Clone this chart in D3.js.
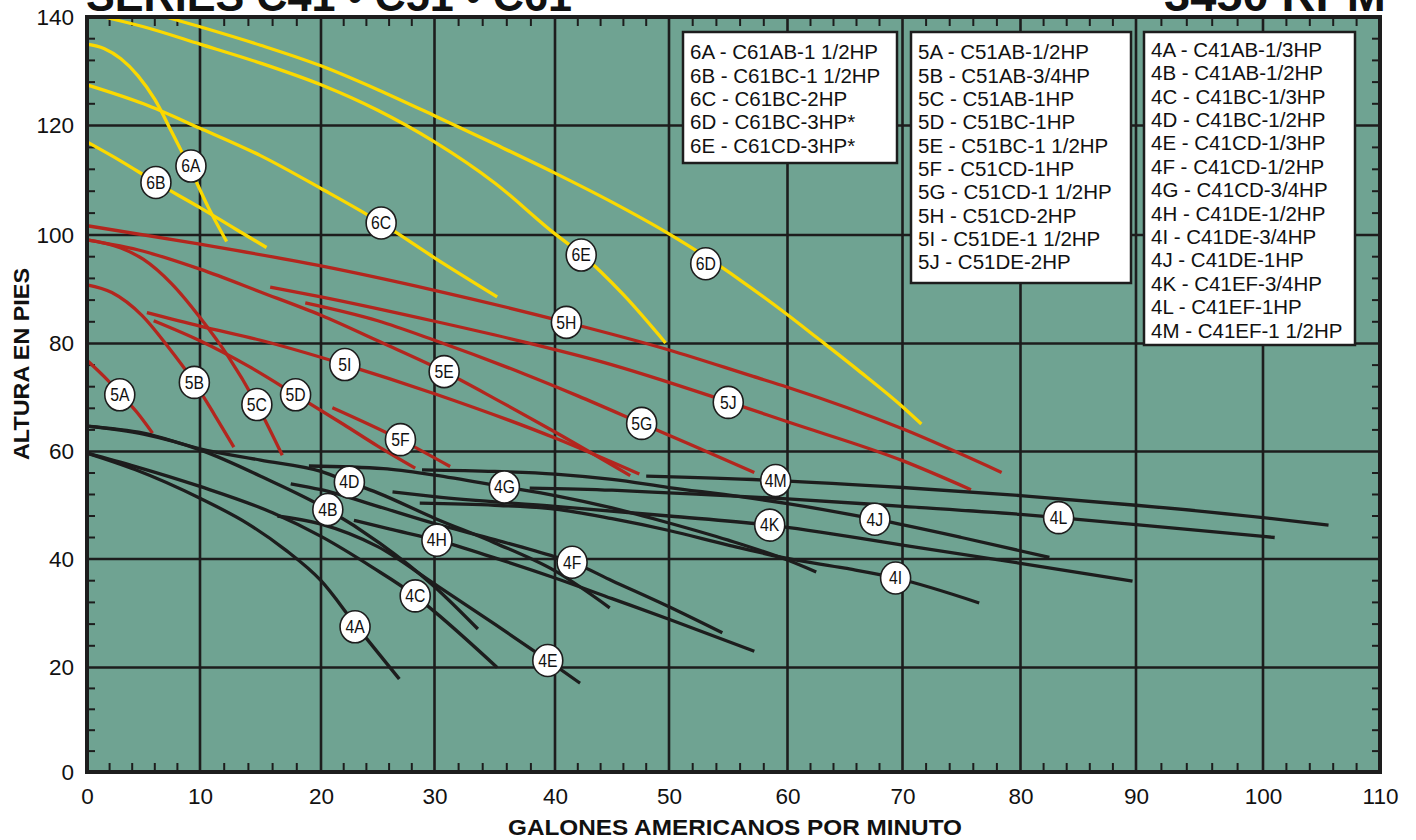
<!DOCTYPE html>
<html>
<head>
<meta charset="utf-8">
<script src="https://cdn.jsdelivr.net/npm/d3@7"></script>
<style>
  body { margin: 0; background: #fff; }
  svg { display: block; font-family: "Liberation Sans", Arial, Helvetica, sans-serif; }
</style>
</head>
<body>
<div id="chart"></div>
<script>
// Pump curves, [flow gpm, head ft]
const c6A = [[0,135],[1.5,134.2],[3,132.3],[4.5,129.2],[6,124.8],[7.5,118.8],[9.2,111.8],[10.7,105],[12.2,98.8]];
const c6B = [[0,117],[3,113.5],[6.1,109.6],[10,105],[13,101],[15.5,97.7]];
const c6C = [[0,127.5],[5,124],[10,119.5],[15,114.5],[20,108.5],[25.3,102.2],[30,95.8],[35.2,88.6]];
const c6D = [[7,140],[10,138.2],[15,134.8],[20,131],[25,126.6],[30,121.8],[35,116.6],[40,111.3],[45,106],[50,100.2],[53.1,96],[56,91.7],[60,85.3],[62.6,81],[66,75.3],[70,68.3],[71.6,65.1]];
const c6E = [[1.5,140],[5,138.2],[10,135],[15,131.5],[20,127.5],[25,122.8],[30,117],[35,109.5],[40,100.2],[42.3,96.5],[46,89],[49.7,80.1]];

const c5A = [[0,76.9],[1.5,73.9],[2.9,70.8],[4.4,67.3],[5.8,63.4]];
const c5B = [[0,90.8],[2.2,89.4],[4.9,85.1],[7.1,79.6],[9.5,72.8],[11.2,66.8],[12.8,60.8]];
const c5C = [[0,99.1],[3,97.6],[5,95.5],[7.5,91],[10,84.8],[12.3,77.7],[14.7,68.7],[16.8,59.3]];
const c5D = [[5.9,84.2],[10,80.5],[14,75.8],[17.9,70.5],[22,65],[25,61],[28.3,56.9]];
const c5E = [[0,99.1],[5,97],[10,93.7],[15,89.5],[20,85.2],[25.2,80.3],[30.8,74.8],[35,69.8],[40,63.6],[46.6,55.5]];
const c5F = [[21,68.1],[27,62.2],[31.3,57.2]];
const c5G = [[18.7,87.5],[25,84.2],[30,80.6],[37.4,74.4],[42,70.3],[47.6,65.2],[52,61.1],[57.2,56.1]];
const c5H = [[0,101.7],[10,98.3],[20,94.3],[30,89.8],[41,83.9],[50,78.8],[57.1,73.9],[60,71.9],[70,64.2],[78.4,56.1]];
const c5I = [[5.3,85.7],[10,83.2],[15,80.6],[22.1,76.1],[30,70.7],[40,62.5],[47.4,55.8]];
const c5J = [[15.8,90.4],[20,88.6],[30,84.1],[37.4,80.3],[44.1,76.6],[55,69.2],[60,65.5],[70,58.3],[75.8,52.9]];

const c4A = [[0,59.7],[4.3,56.6],[10,51.3],[14,46.5],[17,41.8],[20,36],[23,28],[26.9,17.8]];
const c4B = [[0,64.7],[5,63.2],[10,60.3],[15.2,55.2],[20.6,49.2],[25.2,42.9],[30,34.9],[33.6,27.1]];
const c4C = [[0,59.7],[4.3,57.2],[10,53.5],[16,48.6],[20,44.2],[24.5,38.5],[28.3,33.2],[30,30.3],[35.2,20]];
const c4D = [[0,64.7],[5,63.4],[10,60.5],[15,58.4],[20,56.3],[22.5,54.3],[25,52.3],[30,47.6],[35,43],[40,37.8],[44.8,31]];
const c4E = [[16.4,48],[20,46.5],[25,42.3],[30,35.4],[35,28],[39.4,21.3],[42.2,17]];
const c4F = [[17.5,54],[20,52.9],[25,49.8],[30,46.6],[35,43.6],[40,40.4],[41.5,39.4],[45,36],[50,31.2],[54.5,26.4]];
const c4G = [[19,57.3],[25.5,56.8],[30,55.6],[35.8,53.4],[40,51.8],[45,49.5],[50,46.7],[55,43.5],[60,39.8],[62.5,37.6]];
const c4H = [[22.9,47.2],[26,45.6],[30.2,43.5],[35,40.2],[40,36.5],[45,32.7],[50,28.9],[57.2,23]];
const c4I = [[28.7,50.4],[35,50],[40,49.3],[45,47.5],[50,45.3],[55,42.6],[60,40.1],[65,38.3],[69.4,36.5],[76.5,31.9]];
const c4J = [[28.9,56.6],[35,56.3],[40,55.8],[45,54.8],[50,53.3],[56,51.6],[60,50.3],[67.6,47.4],[75,44],[82.5,40.3]];
const c4K = [[26.3,52.5],[30,51.6],[40,49.8],[50,48],[58.5,46.3],[70,42.6],[80,39.2],[89.7,35.9]];
const c4L = [[37.9,53.2],[45,52.8],[50,52.3],[60,51.2],[70,49.8],[80,48.3],[83.3,47.7],[90,46.4],[101,44]];
const c4M = [[48,55.4],[59,54.6],[70,53.3],[80,51.8],[90,50],[100,47.7],[105.6,46.3]];

// circled curve tags: [tag, gpm, ft]
const tags = [
  ["6A",9.2,112.6],["6B",6.1,109.6],["6C",25.3,102.2],["6D",53.1,94.7],["6E",42.3,96.3],
  ["5A",2.9,70.5],["5B",9.5,72.8],["5C",14.7,68.7],["5D",17.9,70.5],["5E",30.8,74.8],
  ["5F",27,62.2],["5G",47.6,65.2],["5H",41,83.9],["5I",22.1,76.1],["5J",55,69.1],
  ["4A",23,27.5],["4B",20.6,49.2],["4C",28.3,33.2],["4D",22.5,54.3],["4E",39.4,21.3],
  ["4F",41.5,39.4],["4G",35.8,53.4],["4H",30.2,43.5],["4I",69.4,36.5],["4J",67.6,47.4],
  ["4K",58.5,46.3],["4L",83.3,47.7],["4M",59,54.6]
];

const legend6 = ["6A - C61AB-1 1/2HP","6B - C61BC-1 1/2HP","6C - C61BC-2HP","6D - C61BC-3HP*","6E - C61CD-3HP*"];
const legend5 = ["5A - C51AB-1/2HP","5B - C51AB-3/4HP","5C - C51AB-1HP","5D - C51BC-1HP","5E - C51BC-1 1/2HP",
                 "5F - C51CD-1HP","5G - C51CD-1 1/2HP","5H - C51CD-2HP","5I - C51DE-1 1/2HP","5J - C51DE-2HP"];
const legend4 = ["4A - C41AB-1/3HP","4B - C41AB-1/2HP","4C - C41BC-1/3HP","4D - C41BC-1/2HP","4E - C41CD-1/3HP",
                 "4F - C41CD-1/2HP","4G - C41CD-3/4HP","4H - C41DE-1/2HP","4I - C41DE-3/4HP","4J - C41DE-1HP",
                 "4K - C41EF-3/4HP","4L - C41EF-1HP","4M - C41EF-1 1/2HP"];

const xTicks = d3.range(0, 111, 10);
const yTicks = d3.range(0, 141, 20);

const width = 1416, height = 840;
const bg = "#6fa392", yellow = "#fbd900", red = "#b3261e", ink = "#1d1d1d";

const svg = d3.select("#chart").append("svg")
  .attr("width", width)
  .attr("height", height);

// the scanned sheet is slightly uneven, so the scales follow its grid
const x = d3.scaleLinear()
  .domain(xTicks)
  .range([87, 200, 321, 434.5, 555, 669, 787.5, 902.5, 1020.5, 1136, 1263, 1380]);
const y = d3.scaleLinear()
  .domain(yTicks)
  .range([772, 667.5, 559, 451.5, 343.5, 235, 125.5, 17]);

// plot background
svg.append("rect")
  .attr("x", x(0)).attr("y", y(140))
  .attr("width", x(110) - x(0)).attr("height", y(0) - y(140))
  .attr("fill", bg);

// grid
svg.append("g").selectAll("line")
  .data(xTicks.slice(1, -1)).enter().append("line")
  .attr("x1", d => x(d)).attr("x2", d => x(d))
  .attr("y1", y(0)).attr("y2", y(140))
  .attr("stroke", ink).attr("stroke-width", 2.6);
svg.append("g").selectAll("line")
  .data(yTicks.slice(1, -1)).enter().append("line")
  .attr("x1", x(0)).attr("x2", x(110))
  .attr("y1", d => y(d)).attr("y2", d => y(d))
  .attr("stroke", ink).attr("stroke-width", 2.6);

// small inside ticks on all four edges
const xMinor = d3.range(2, 110, 2).filter(d => d % 10 !== 0);
const yMinor = d3.range(4, 140, 4).filter(d => d % 20 !== 0);
const ticks = svg.append("g").attr("stroke", ink).attr("stroke-width", 2);
ticks.selectAll(".tb").data(xMinor).enter().append("line")
  .attr("x1", d => x(d)).attr("x2", d => x(d)).attr("y1", y(140)).attr("y2", y(140) + 9);
ticks.selectAll(".bb").data(xMinor).enter().append("line")
  .attr("x1", d => x(d)).attr("x2", d => x(d)).attr("y1", y(0)).attr("y2", y(0) - 9);
ticks.selectAll(".lb").data(yMinor).enter().append("line")
  .attr("x1", x(0)).attr("x2", x(0) + 8).attr("y1", d => y(d)).attr("y2", d => y(d));
ticks.selectAll(".rb").data(yMinor).enter().append("line")
  .attr("x1", x(110)).attr("x2", x(110) - 8).attr("y1", d => y(d)).attr("y2", d => y(d));

// legend boxes
function legendBox(items, x0, y0, w, h, tx, firstRow, step) {
  const g = svg.append("g");
  g.append("rect")
    .attr("x", x0).attr("y", y0).attr("width", w).attr("height", h)
    .attr("fill", "#fff").attr("stroke", ink).attr("stroke-width", 2.5);
  g.selectAll("text").data(items).enter().append("text")
    .attr("x", tx)
    .attr("y", (d, i) => firstRow + i * step + 7.5)
    .attr("font-size", 20.5)
    .attr("fill", "#111")
    .text(d => d);
}
legendBox(legend6, 683, 32, 214, 131, 690, 51.7, 23.33);
legendBox(legend5, 911, 32, 220, 251, 918, 51.7, 23.33);
legendBox(legend4, 1144, 32, 211, 313, 1151, 49.3, 23.4);

// curves
const line = d3.line()
  .x(d => x(d[0]))
  .y(d => y(d[1]))
  .curve(d3.curveMonotoneX);

const curves = [
  [c6A, yellow], [c6B, yellow], [c6C, yellow], [c6D, yellow], [c6E, yellow],
  [c5A, red], [c5B, red], [c5C, red], [c5D, red], [c5E, red],
  [c5F, red], [c5G, red], [c5H, red], [c5I, red], [c5J, red],
  [c4A, ink], [c4B, ink], [c4C, ink], [c4D, ink], [c4E, ink], [c4F, ink], [c4G, ink],
  [c4H, ink], [c4I, ink], [c4J, ink], [c4K, ink], [c4L, ink], [c4M, ink]
];

svg.append("g").selectAll("path")
  .data(curves).enter().append("path")
  .attr("d", d => line(d[0]))
  .attr("fill", "none")
  .attr("stroke", d => d[1])
  .attr("stroke-width", 3.3)
  .attr("stroke-linecap", "butt");

// circled tags
const tag = svg.append("g").selectAll("g")
  .data(tags).enter().append("g")
  .attr("transform", d => `translate(${x(d[1])},${y(d[2])})`);
tag.append("ellipse")
  .attr("rx", 15).attr("ry", 16)
  .attr("fill", "#fff").attr("stroke", ink).attr("stroke-width", 1.6);
tag.append("text")
  .attr("text-anchor", "middle")
  .attr("transform", "scale(0.9,1)")
  .attr("dy", "0.36em")
  .attr("font-size", 17.5)
  .attr("fill", "#111")
  .text(d => d[0]);

// frame
svg.append("rect")
  .attr("x", x(0)).attr("y", y(140))
  .attr("width", x(110) - x(0)).attr("height", y(0) - y(140))
  .attr("fill", "none").attr("stroke", ink).attr("stroke-width", 4);

// axes
svg.append("g")
  .attr("transform", `translate(${x(0)},0)`)
  .call(d3.axisLeft(y).tickValues(yTicks).tickSize(0).tickPadding(13))
  .call(g => g.select(".domain").remove())
  .selectAll("text")
    .attr("font-size", 22.5)
    .attr("font-family", "Liberation Sans, Arial, sans-serif")
    .attr("fill", "#111");

svg.append("g")
  .attr("transform", `translate(0,${y(0)})`)
  .call(d3.axisBottom(x).tickValues(xTicks).tickSize(0).tickPadding(16))
  .call(g => g.select(".domain").remove())
  .selectAll("text")
    .attr("font-size", 22.5)
    .attr("font-family", "Liberation Sans, Arial, sans-serif")
    .attr("fill", "#111");

svg.append("text")
  .attr("transform", "translate(29,364) rotate(-90)")
  .attr("text-anchor", "middle")
  .attr("font-size", 22)
  .attr("font-weight", "bold")
  .attr("textLength", 192)
  .attr("lengthAdjust", "spacingAndGlyphs")
  .attr("fill", "#111")
  .text("ALTURA EN PIES");

svg.append("text")
  .attr("x", 735).attr("y", 835)
  .attr("text-anchor", "middle")
  .attr("font-size", 22)
  .attr("font-weight", "bold")
  .attr("textLength", 454)
  .attr("lengthAdjust", "spacingAndGlyphs")
  .attr("fill", "#111")
  .text("GALONES AMERICANOS POR MINUTO");

// title, cut off by the top of the page as in the sheet
svg.append("text")
  .attr("x", 86).attr("y", 11)
  .attr("font-size", 44)
  .attr("font-weight", "bold")
  .attr("textLength", 486)
  .attr("lengthAdjust", "spacingAndGlyphs")
  .attr("fill", "#111")
  .text("SERIES C41 \u2022 C51 \u2022 C61");

svg.append("text")
  .attr("x", 1386).attr("y", 11)
  .attr("text-anchor", "end")
  .attr("font-size", 44)
  .attr("font-weight", "bold")
  .attr("textLength", 222)
  .attr("lengthAdjust", "spacingAndGlyphs")
  .attr("fill", "#111")
  .text("3450 RPM");
</script>
</body>
</html>
